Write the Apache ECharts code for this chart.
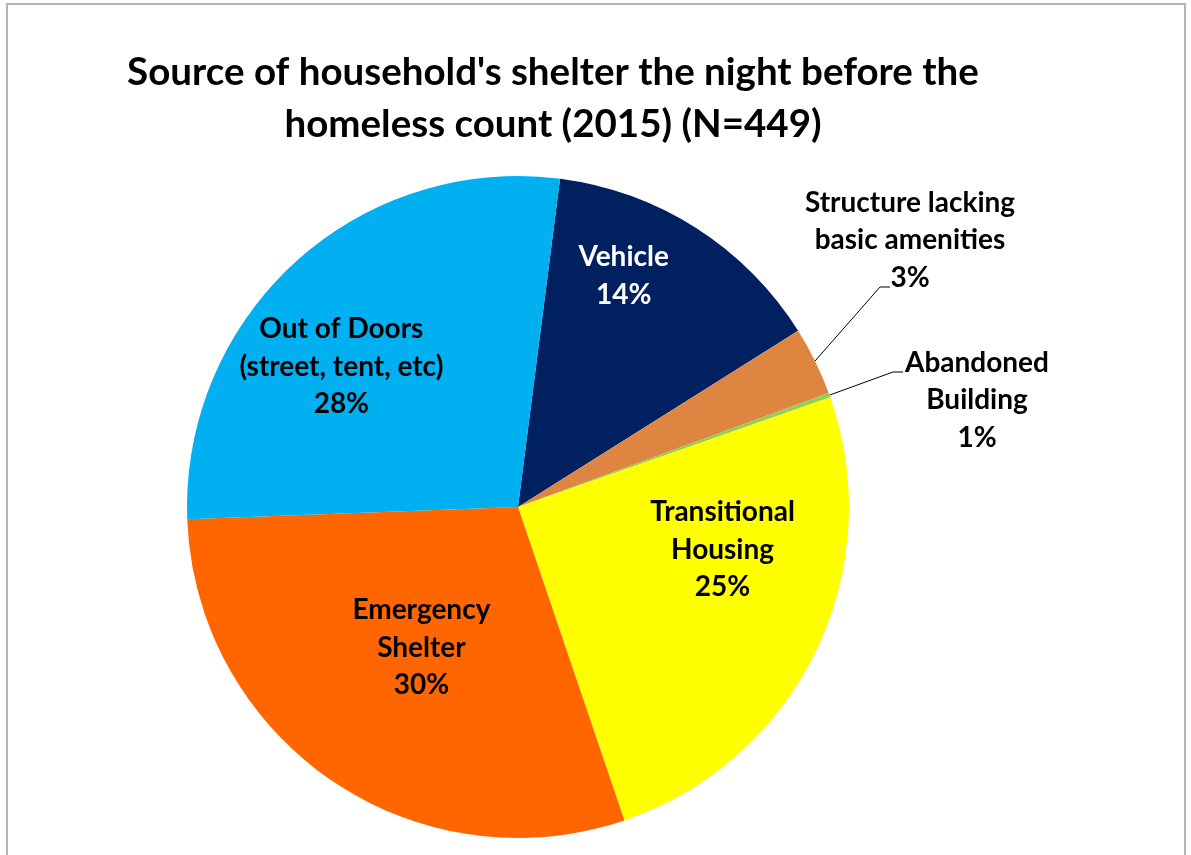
<!DOCTYPE html>
<html>
<head>
<meta charset="utf-8">
<title>Source of household's shelter (2015)</title>
<script src="https://cdn.jsdelivr.net/npm/echarts@6/dist/echarts.min.js"></script>
<style>
  html, body { margin: 0; padding: 0; background: #fff; }
  #frame { position: absolute; left: 6px; top: 3px; width: 1180px; height: 900px; border: 2px solid #b4b4b4; box-sizing: border-box; }
  #chart { position: absolute; left: 0; top: 0; width: 1191px; height: 855px; }
</style>
</head>
<body>
<div id="frame"></div>
<div id="chart"></div>
<script>
  // shelter source, clockwise from the top
  var categories = ['Vehicle', 'Structure lacking\nbasic amenities', 'Abandoned\nBuilding',
    'Transitional\nHousing', 'Emergency\nShelter', 'Out of Doors\n(street, tent, etc)'];
  var households = [63, 15, 1, 113, 133, 124];   // N = 449
  var pctLabels = ['14%', '3%', '1%', '25%', '30%', '28%'];

  var sliceColors = ['#002060', '#DE8641', '#92D050', '#FFFF00', '#FF6600', '#00B0F0'];
  var labelColors = ['#fff', '#000', '#000', '#000', '#000', '#000'];
  var outsideIdx = [1, 2];

  // label tweaks (Excel-like placement)
  var labelNudge = { 0: [15, -89], 3: [53, -31], 4: [-1, 2], 5: [-63, -16] };
  var calloutAt = { 1: [910, 240], 2: [977, 400] };
  var calloutElbow = { 1: [-30, 47], 2: [-84, -28] };

  var pieData = categories.map(function (name, i) {
    var item = {
      name: name,
      value: households[i],
      itemStyle: { color: sliceColors[i] },
      label: { color: labelColors[i] }
    };
    if (outsideIdx.indexOf(i) >= 0) {
      item.label.position = 'outside';
    }
    return item;
  });

  var chart = echarts.init(document.getElementById('chart'));
  chart.setOption({
    animation: false,
    title: {
      text: "Source of household's shelter the night before the\nhomeless count (2015) (N=449)",
      left: 553,
      top: 47,
      padding: 0,
      textAlign: 'center',
      textStyle: {
        fontFamily: 'Lato',
        fontWeight: 'bold',
        fontSize: 38.5,
        lineHeight: 52,
        color: '#000'
      }
    },
    series: [{
      type: 'pie',
      center: [518, 507],
      radius: 331,
      startAngle: 82.7,
      clockwise: true,
      avoidLabelOverlap: false,
      itemStyle: { borderWidth: 0 },
      emphasis: { disabled: true },
      label: {
        show: true,
        position: 'inside',
        fontFamily: 'Lato',
        fontWeight: 'bold',
        fontSize: 28,
        lineHeight: 37.5,
        align: 'center',
        formatter: function (p) {
          return p.name + '\n' + pctLabels[p.dataIndex];
        }
      },
      labelLine: {
        show: true,
        length: 20,
        length2: 10,
        lineStyle: { color: '#000', width: 1 }
      },
      labelLayout: function (p) {
        var i = p.dataIndex;
        if (calloutAt[i]) {
          var c = calloutAt[i], e = calloutElbow[i];
          var out = { x: c[0], y: c[1], align: 'center', verticalAlign: 'middle' };
          if (p.labelLinePoints) {
            out.labelLinePoints = [
              p.labelLinePoints[0],
              [c[0] + e[0], c[1] + e[1]],
              [c[0] + e[0] + 10, c[1] + e[1]]
            ];
          }
          return out;
        }
        var n = labelNudge[i] || [0, 0];
        return { dx: n[0], dy: n[1] };
      },
      data: pieData
    }]
  });
</script>
</body>
</html>
